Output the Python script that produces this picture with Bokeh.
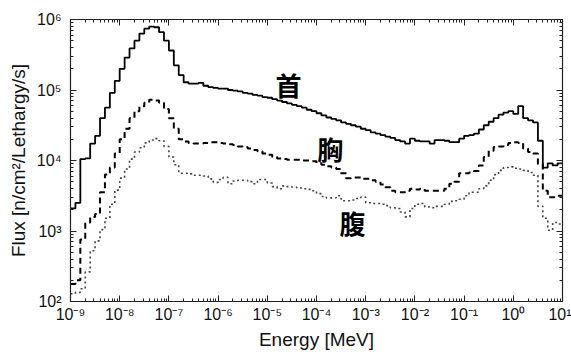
from bokeh.plotting import figure
from bokeh.models import (FixedTicker, LogAxis, CustomJSTickFormatter, Range1d, Label,
                          CustomLabelingPolicy)
from bokeh.embed import file_html
from bokeh.resources import INLINE

# Energy bins: 10 per decade from 1e-9 to 1e1 MeV
bin_start_exp = -9
bins_per_decade = 10
n_bins = 100

# log10(flux) per bin
neck_log = [
    3.32, 3.40, 4.02, 4.03, 4.24, 4.35, 4.60, 4.75, 4.96, 5.13,
    5.30, 5.46, 5.59, 5.70, 5.80, 5.87, 5.90, 5.89, 5.82, 5.70,
    5.56, 5.35, 5.21, 5.11, 5.09, 5.09, 5.10, 5.06, 5.04, 5.03,
    5.02, 5.02, 5.00, 4.99, 4.98, 4.96, 4.95, 4.93, 4.92, 4.90,
    4.89, 4.87, 4.85, 4.83, 4.81, 4.79, 4.77, 4.75, 4.72, 4.70,
    4.67, 4.64, 4.61, 4.59, 4.57, 4.54, 4.52, 4.50, 4.48, 4.45,
    4.43, 4.40, 4.38, 4.36, 4.34, 4.32, 4.29, 4.27, 4.24, 4.31,
    4.28, 4.27, 4.27, 4.24, 4.29, 4.29, 4.28, 4.26, 4.26, 4.31,
    4.35, 4.36, 4.38, 4.44, 4.50, 4.55, 4.60, 4.65, 4.68, 4.70,
    4.66, 4.77, 4.60, 4.57, 4.54, 4.28, 3.90, 3.96, 3.93, 3.96,
]
chest_log = [
    2.25, 2.30, 2.88, 3.12, 3.20, 3.24, 3.55, 3.80, 3.90, 4.10,
    4.30, 4.45, 4.60, 4.70, 4.77, 4.82, 4.86, 4.85, 4.82, 4.73,
    4.60, 4.45, 4.30, 4.27, 4.25, 4.24, 4.24, 4.25, 4.26, 4.26,
    4.25, 4.24, 4.23, 4.22, 4.20, 4.19, 4.17, 4.15, 4.13, 4.10,
    4.08, 4.05, 4.03, 4.02, 4.01, 4.01, 4.01, 4.00, 4.00, 3.99,
    3.96, 3.94, 3.92, 3.90, 3.88, 3.82, 3.75, 3.76, 3.76, 3.74,
    3.74, 3.72, 3.70, 3.66, 3.62, 3.57, 3.55, 3.55, 3.57, 3.60,
    3.59, 3.60, 3.57, 3.57, 3.57, 3.57, 3.60, 3.67, 3.70, 3.82,
    3.82, 3.83, 3.85, 3.93, 4.05, 4.14, 4.19, 4.20, 4.22, 4.25,
    4.26, 4.25, 4.17, 4.12, 4.10, 3.95, 3.57, 3.48, 3.48, 3.50,
]
abdomen_log = [
    2.11, 2.13, 2.18, 2.42, 2.72, 2.86, 3.02, 3.18, 3.38, 3.58,
    3.75, 3.88, 4.02, 4.12, 4.18, 4.25, 4.29, 4.31, 4.28, 4.20,
    4.05, 3.94, 3.82, 3.82, 3.81, 3.79, 3.79, 3.78, 3.74, 3.69,
    3.73, 3.76, 3.67, 3.71, 3.72, 3.72, 3.70, 3.67, 3.73, 3.73,
    3.68, 3.63, 3.60, 3.64, 3.63, 3.62, 3.61, 3.60, 3.59, 3.57,
    3.53, 3.49, 3.47, 3.47, 3.50, 3.43, 3.43, 3.44, 3.46, 3.48,
    3.40, 3.39, 3.39, 3.38, 3.36, 3.33, 3.32, 3.27, 3.20, 3.32,
    3.38, 3.39, 3.34, 3.33, 3.35, 3.35, 3.38, 3.42, 3.43, 3.45,
    3.50, 3.55, 3.55, 3.60, 3.64, 3.72, 3.80, 3.86, 3.90, 3.91,
    3.89, 3.88, 3.86, 3.83, 3.79, 3.35, 3.18, 3.01, 3.12, 3.10,
]

x_major = [1e-9, 1e-8, 1e-7, 1e-6, 1e-5, 1e-4, 1e-3, 1e-2, 1e-1, 1e0, 1e1]
y_major = [1e2, 1e3, 1e4, 1e5, 1e6]

labels = ["首", "胸", "腹"]
label_x = [2.7e-5, 1.9e-4, 5.4e-4]
label_y = [1.2e5, 1.5e4, 1.3e3]

edges = [10 ** (bin_start_exp + k / bins_per_decade) for k in range(n_bins + 1)]


def minor_of(majors):
    out = []
    for m in majors[:-1]:
        out += [m * f for f in range(2, 10)]
    return out


p = figure(width=571, height=352, x_axis_type="log", y_axis_type="log",
           x_range=Range1d(1e-9, 1e1), y_range=Range1d(1e2, 1e6),
           output_backend="svg", toolbar_location=None,
           min_border_left=70, min_border_right=9, min_border_top=19,
           min_border_bottom=51)
p.background_fill_color = "white"
p.border_fill_color = "white"
p.outline_line_color = "#222222"
p.outline_line_width = 1.2
p.xgrid.visible = False
p.ygrid.visible = False

fmt = CustomJSTickFormatter(code="""
const e = Math.round(Math.log10(tick));
const sup = {'-':'\u207b','0':'\u2070','1':'\u00b9','2':'\u00b2','3':'\u00b3','4':'\u2074','5':'\u2075','6':'\u2076','7':'\u2077','8':'\u2078','9':'\u2079'};
return '10' + String(e).split('').map(c => sup[c]).join('');
""")

hide_all = CustomLabelingPolicy(code="""
const all = Array.from(indices);
for (const i of all) indices.unset(i);
return indices;
""")

xt = FixedTicker(ticks=x_major, minor_ticks=minor_of(x_major))
yt = FixedTicker(ticks=y_major, minor_ticks=minor_of(y_major))


def style(ax, ticker, labels_on=True):
    ax.ticker = ticker
    ax.formatter = fmt
    ax.axis_line_color = "#222222"
    ax.major_tick_in = 6
    ax.major_tick_out = 0
    ax.minor_tick_in = 3
    ax.minor_tick_out = 0
    ax.major_tick_line_color = "#222222"
    ax.minor_tick_line_color = "#222222"
    if labels_on:
        ax.major_label_text_font = "Liberation Sans"
        ax.major_label_text_font_size = "16px"
        ax.major_label_text_color = "#111111"
        ax.axis_label_text_font = "Liberation Sans"
        ax.axis_label_text_font_size = "19px"
        ax.axis_label_text_font_style = "normal"
        ax.axis_label_text_color = "#111111"
    else:
        ax.major_label_policy = hide_all
        ax.major_label_text_font_size = "1px"
        ax.major_label_standoff = 0


style(p.xaxis[0], xt)
style(p.yaxis[0], yt)
p.xaxis[0].axis_label = "Energy [MeV]"
p.xaxis[0].major_label_standoff = 4
p.xaxis[0].axis_label_standoff = 3
p.yaxis[0].axis_label = "Flux [n/cm²/Lethargy/s]"
p.yaxis[0].major_label_standoff = 9
p.yaxis[0].axis_label_standoff = 5

top = LogAxis()
style(top, FixedTicker(ticks=x_major, minor_ticks=minor_of(x_major)), labels_on=False)
p.add_layout(top, "above")
right = LogAxis()
style(right, FixedTicker(ticks=y_major, minor_ticks=minor_of(y_major)), labels_on=False)
p.add_layout(right, "right")


def vals(logs):
    v = [10 ** l for l in logs]
    return v + [v[-1]]


p.step(edges, vals(neck_log), mode="after", line_color="black", line_width=1.8)
p.step(edges, vals(chest_log), mode="after", line_color="black", line_width=2.0,
       line_dash="6 4")
p.step(edges, vals(abdomen_log), mode="after", line_color="#444444", line_width=1.6,
       line_dash="2 3")

for t, lx, ly in zip(labels, label_x, label_y):
    p.add_layout(Label(x=lx, y=ly, text=t, text_font="Noto Sans CJK JP",
                       text_font_size="26px", text_font_style="bold",
                       text_align="center", text_baseline="middle",
                       text_color="black"))

open("out.html", "w").write(file_html(p, INLINE))
